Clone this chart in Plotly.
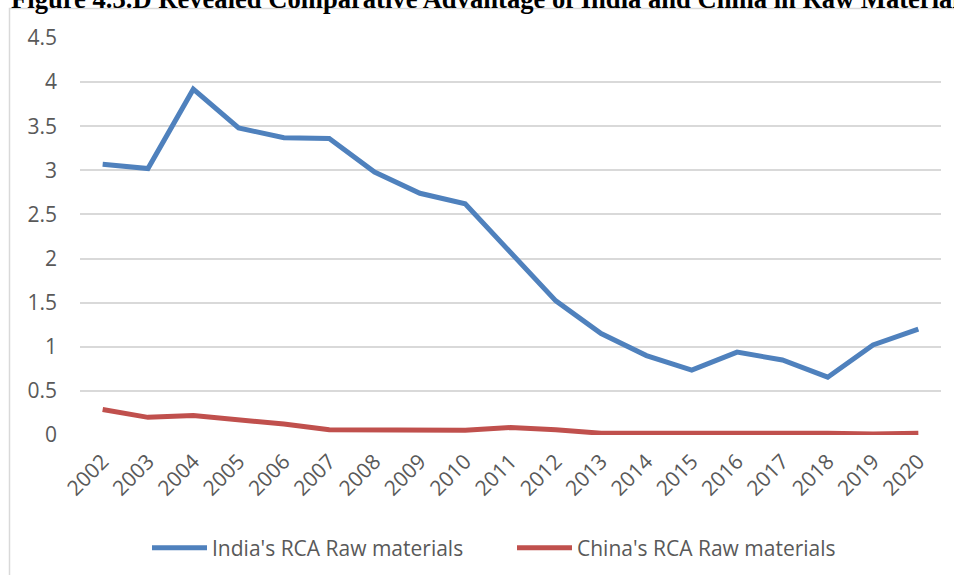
import plotly.graph_objects as go

# Revealed Comparative Advantage (RCA) in raw materials, India vs China
years = [str(y) for y in range(2002, 2021)]
india_rca = [3.07, 3.02, 3.92, 3.48, 3.37, 3.36, 2.98, 2.74, 2.62, 2.08,
             1.52, 1.15, 0.90, 0.735, 0.94, 0.85, 0.655, 1.02, 1.20]
china_rca = [0.29, 0.20, 0.22, 0.17, 0.125, 0.06, 0.06, 0.055, 0.055, 0.085,
             0.06, 0.02, 0.02, 0.025, 0.025, 0.025, 0.02, 0.01, 0.02]
y_tick_vals = [0, 0.5, 1, 1.5, 2, 2.5, 3, 3.5, 4, 4.5]
y_tick_text = ["0", "0.5", "1", "1.5", "2", "2.5", "3", "3.5", "4", "4.5"]

W, H = 954, 575
L, R, T, B = 80, 13, 38, 140


def px_x(px):
    return (px - L) / (W - L - R)


def px_y(py):
    return 1 - (py - T) / (H - T - B)


fig = go.Figure()
fig.add_trace(go.Scatter(
    x=years, y=india_rca, mode="lines", name="India's RCA Raw materials",
    line=dict(color="#4F81BD", width=5),
))
fig.add_trace(go.Scatter(
    x=years, y=china_rca, mode="lines", name="China's RCA Raw materials",
    line=dict(color="#C0504D", width=5),
))

font_family = "Open Sans, Noto Sans, sans-serif"
grey = "#595959"

fig.update_layout(
    width=W, height=H,
    margin=dict(l=L, r=R, t=T, b=B, pad=0, autoexpand=False),
    paper_bgcolor="white", plot_bgcolor="white",
    font=dict(family=font_family, size=21, color=grey),
    showlegend=True,
    legend=dict(
        orientation="h", x=px_x(147), y=px_y(548), xanchor="left", yanchor="middle",
        font=dict(size=21, color=grey), itemwidth=55,
        entrywidth=295, entrywidthmode="pixels",
        bgcolor="rgba(0,0,0,0)",
    ),
    xaxis=dict(
        type="category", range=[-0.5, len(years) - 0.5], automargin=False,
        showgrid=False, zeroline=False, showline=False, ticks="",
        tickangle=-45, tickfont=dict(size=21, color=grey),
        ticklabelstandoff=9,
    ),
    yaxis=dict(
        range=[0, 4.5], tickvals=y_tick_vals, ticktext=y_tick_text, automargin=False,
        showgrid=True, gridcolor="#D9D9D9", gridwidth=1.5,
        zeroline=False, showline=False, ticks="",
        tickfont=dict(size=21, color=grey), ticklabelstandoff=22,
    ),
)

# Chart-area border
fig.add_shape(
    type="rect", xref="paper", yref="paper",
    x0=px_x(9.5), x1=px_x(W + 5), y0=px_y(H + 5), y1=px_y(8.5),
    line=dict(color="#D9D9D9", width=1.5), fillcolor="rgba(0,0,0,0)", layer="below",
)

# Figure caption above the chart area
fig.add_annotation(
    text="<b>Figure 4.3.D Revealed Comparative Advantage of India and China in Raw Materials</b>",
    xref="paper", yref="paper", x=px_x(10), y=px_y(15),
    xanchor="left", yanchor="bottom", showarrow=False,
    font=dict(family="Liberation Serif, Times New Roman, serif", size=26.6, color="black"),
    borderpad=0,
)

fig.write_html("out.html")
